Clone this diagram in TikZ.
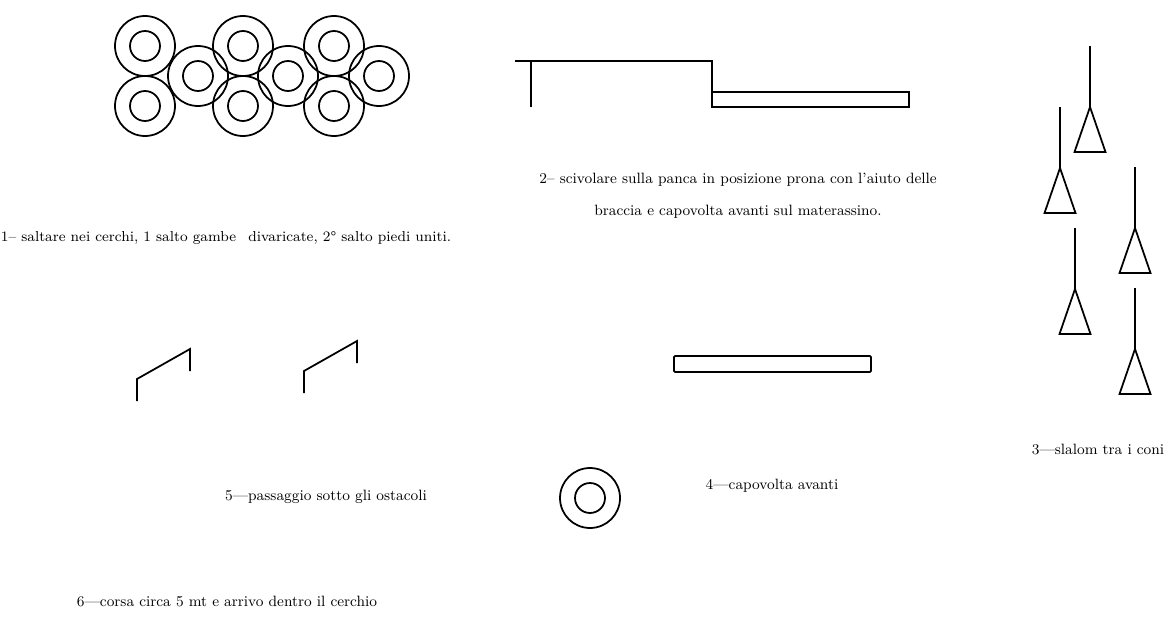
\documentclass[tikz,border=0pt]{standalone}
\usepackage{tikz}
\usetikzlibrary{positioning}

\tikzset{
  txt/.style={font=\fontsize{8.5}{10}\selectfont, inner sep=0pt, anchor=base},
}

\begin{document}
\begin{tikzpicture}[x=0.02cm, y=-0.02cm, line width=1pt]
\useasboundingbox (0,0) rectangle (1168,618);
% cerchi
\foreach \cx/\cy in {145/46,243/46,334/46,198/76,288/76,379/76,145/106,243/106,334/106}{
  \draw (\cx,\cy) circle[radius=30] (\cx,\cy) circle[radius=15];
}
% panca
\draw (515,61) -- (712,61) -- (712,107);
\draw (531,61) -- (531,107);
\draw (712,92) rectangle (909,107);
% coni
\foreach \cx/\cy in {1090/46,1060/107,1135/167,1075/228,1135/288}{
  \draw (\cx,\cy) -- (\cx,\cy+61);
  \draw (\cx,\cy+61) -- ++(-15.5,45) -- ++(31,0) -- cycle;
}
% ostacoli
\foreach \hx/\hy in {0/0,167/-8}{
  \draw[shift={(\hx,\hy)}] (137,401) -- (137,379) -- (190,349) -- (190,371);
}
% materassino
\draw[rounded corners=0.6pt] (674,356) rectangle (871,372);
% cerchio arrivo
\draw (590,498) circle[radius=30] (590,498) circle[radius=15];

\node[txt, font=\fontsize{8.2}{10}\selectfont] (t1) at (226,241) {1– saltare nei cerchi, 1 salto gambe\enspace\ divaricate, 2\textdegree{} salto piedi uniti.};
\node[txt] (t2a) at (738,183) {2– scivolare sulla panca in posizione prona con l’aiuto delle};
\node[txt, below=0.66cm of t2a.base, anchor=base] (t2b) {braccia e capovolta avanti sul materassino.};
\node[txt] (t3) at (1098,454) {3—slalom tra i coni};
\node[txt] (t4) at (772,489) {4—capovolta avanti};
\node[txt] (t5) at (326,500) {5—passaggio sotto gli ostacoli};
\node[txt] (t6) at (227,606) {6—corsa circa 5 mt e arrivo dentro il cerchio};
\end{tikzpicture}
\end{document}
